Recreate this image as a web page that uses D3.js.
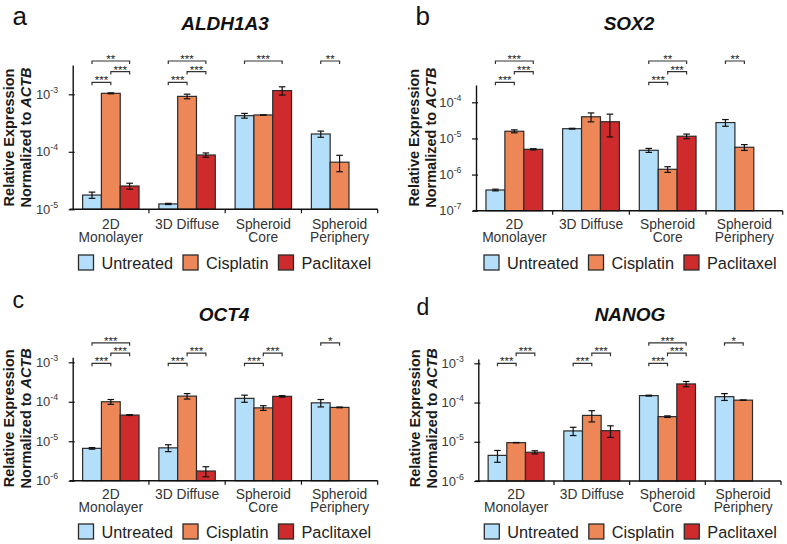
<!DOCTYPE html>
<html>
<head>
<meta charset="utf-8">
<script src="https://cdn.jsdelivr.net/npm/d3@7"></script>
<style>
  html, body { margin: 0; padding: 0; background: #fff; }
  svg { display: block; font-family: "Liberation Sans", Arial, Helvetica, sans-serif; }
</style>
</head>
<body>
<svg id="chart" width="787" height="544"></svg>
<script>
// ---------------- DATA ----------------
const categories = [["2D", "Monolayer"], ["3D Diffuse"], ["Spheroid", "Core"], ["Spheroid", "Periphery"]];
const series = ["Untreated", "Cisplatin", "Paclitaxel"];
const seriesColors = ["#b3dffa", "#ee8757", "#d02b2c"];

// mean values [category][series]
const aldh1a3Mean = [[1.77e-5, 1.04e-3, 2.54e-5], [1.24e-5, 9.2e-4, 8.8e-5], [4.25e-4, 4.37e-4, 1.16e-3], [2.04e-4, 6.6e-5, null]];
const aldh1a3Err  = [[2.2e-6, 2.0e-5, 3.0e-6], [3e-7, 8.5e-5, 7.5e-6], [4.0e-5, 0, 1.9e-4], [2.5e-5, 2.1e-5, null]];
const sox2Mean = [[3.74e-7, 1.58e-5, 5.0e-6], [1.86e-5, 3.98e-5, 2.9e-5], [4.7e-6, 1.4e-6, 1.15e-5], [2.75e-5, 5.7e-6, null]];
const sox2Err  = [[2e-8, 1.5e-6, 2e-7], [5e-7, 1.1e-5, 1.8e-5], [6e-7, 2.5e-7, 1.7e-6], [5.8e-6, 1.05e-6, null]];
const oct4Mean = [[6.6e-6, 1.0e-4, 4.6e-5], [6.8e-6, 1.39e-4, 1.76e-6], [1.22e-4, 7.0e-5, 1.37e-4], [9.4e-5, 7.2e-5, null]];
const oct4Err  = [[3e-7, 1.4e-5, 1e-6], [1.35e-6, 2.2e-5, 5e-7], [2.5e-5, 9.5e-6, 6e-6], [2.0e-5, 1.5e-6, null]];
const nanogMean = [[4.5e-6, 9.5e-6, 5.4e-6], [1.89e-5, 4.7e-5, 1.92e-5], [1.5e-4, 4.37e-5, 2.98e-4], [1.41e-4, 1.15e-4, null]];
const nanogErr  = [[1.5e-6, 1e-7, 5e-7], [4.5e-6, 1.5e-5, 6.3e-6], [4e-6, 2e-6, 4.6e-5], [2.8e-5, 1e-6, null]];

// significance: [category, seriesA, seriesB, label, level]
const aldh1a3Sig = [[0,0,1,"***",1],[0,1,2,"***",2],[0,0,2,"**",3],[1,0,1,"***",1],[1,1,2,"***",2],[1,0,2,"***",3],[2,0,2,"***",3],[3,0,1,"**",3]];
const sox2Sig = [[0,0,1,"***",1],[0,1,2,"***",2],[0,0,2,"***",3],[2,0,1,"***",1],[2,1,2,"***",2],[2,0,2,"**",3],[3,0,1,"**",3]];
const oct4Sig = [[0,0,1,"***",1],[0,1,2,"***",2],[0,0,2,"***",3],[1,0,1,"***",1],[1,1,2,"***",2],[2,0,1,"***",1],[2,1,2,"***",2],[3,0,1,"*",3]];
const nanogSig = [[0,0,1,"***",1],[0,1,2,"***",2],[1,0,1,"***",1],[1,1,2,"***",2],[2,0,1,"***",1],[2,1,2,"***",2],[2,0,2,"***",3],[3,0,1,"*",3]];

// y tick values
const aldh1a3Ticks = [1e-5, 1e-4, 1e-3];
const sox2Ticks = [1e-7, 1e-6, 1e-5, 1e-4];
const oct4Ticks = [1e-6, 1e-5, 1e-4, 1e-3];
const nanogTicks = [1e-6, 1e-5, 1e-4, 1e-3];

// ---------------- LAYOUT ----------------
const panels = [
  { gene: "ALDH1A3", letter: "a", mean: aldh1a3Mean, err: aldh1a3Err, sig: aldh1a3Sig, ticks: aldh1a3Ticks,
    x0: 72.7, x1: 377.7, bottom: 209.3, refPx: 94.3, top: 65,
    letterX: 12.5, letterY: 24.5, letterSize: 26, titleX: 225, titleY: 30,
    yTitleCy: 137.5, yTitleX1: 13.5, yTitleX2: 30.5, levels: {1: 82.3, 2: 71.6, 3: 61},
    catY: 228.5, legendX: 78.5, legendY: 255 },
  { gene: "SOX2", letter: "b", mean: sox2Mean, err: sox2Err, sig: sox2Sig, ticks: sox2Ticks,
    x0: 476, x1: 782.7, bottom: 210.7, refPx: 102.3, top: 85,
    letterX: 415.5, letterY: 24.5, letterSize: 26, titleX: 629, titleY: 29.5,
    yTitleCy: 137.7, yTitleX1: 418.5, yTitleX2: 435.5, levels: {1: 82.3, 2: 71.6, 3: 61},
    catY: 228.5, legendX: 484, legendY: 255 },
  { gene: "OCT4", letter: "c", mean: oct4Mean, err: oct4Err, sig: oct4Sig, ticks: oct4Ticks,
    x0: 72.7, x1: 377.7, bottom: 480.7, refPx: 362.3, top: 357.3,
    letterX: 12.5, letterY: 308, letterSize: 23, titleX: 224, titleY: 320.7,
    yTitleCy: 418.3, yTitleX1: 13.5, yTitleX2: 30.5, levels: {1: 363.3, 2: 353.2, 3: 342.8},
    catY: 498.5, legendX: 78.5, legendY: 524 },
  { gene: "NANOG", letter: "d", mean: nanogMean, err: nanogErr, sig: nanogSig, ticks: nanogTicks,
    x0: 478.3, x1: 781, bottom: 481, refPx: 363.3, top: 359,
    letterX: 416.5, letterY: 315, letterSize: 23, titleX: 630, titleY: 321,
    yTitleCy: 418.3, yTitleX1: 420, yTitleX2: 437, levels: {1: 363.3, 2: 353.2, 3: 342.8},
    catY: 498.5, legendX: 484.3, legendY: 524 }
];

const svg = d3.select("#chart");
const ink = "#2b2b2b";

panels.forEach(p => {
  const g = svg.append("g");

  // scales
  const xBand = d3.scaleBand().domain(d3.range(categories.length)).range([p.x0, p.x1]).padding(0);
  const W = xBand.bandwidth();
  const xInner = d3.scaleBand().domain(d3.range(series.length)).range([W * 0.13, W * 0.87]).padding(0);
  const y = d3.scaleLog().domain([p.ticks[0], p.ticks[p.ticks.length - 1]]).range([p.bottom, p.refPx]);
  y.domain([p.ticks[0], y.invert(p.top)]).range([p.bottom, p.top]);

  // bars
  p.mean.forEach((row, ci) => {
    row.forEach((v, si) => {
      if (v == null) return;
      const bx = xBand(ci) + xInner(si);
      g.append("rect")
        .attr("x", bx).attr("y", y(v))
        .attr("width", xInner.bandwidth()).attr("height", p.bottom - y(v))
        .attr("fill", seriesColors[si]).attr("stroke", ink).attr("stroke-width", 1.2);
    });
  });

  // error bars
  p.mean.forEach((row, ci) => {
    row.forEach((v, si) => {
      if (v == null) return;
      const e = p.err[ci][si];
      if (e == null) return;
      const cx = xBand(ci) + xInner(si) + xInner.bandwidth() / 2;
      const yHi = y(v + e), yLo = y(Math.max(v - e, 1e-12));
      const eg = g.append("g").attr("stroke", "#111").attr("stroke-width", 1.2);
      eg.append("line").attr("x1", cx).attr("x2", cx).attr("y1", yHi).attr("y2", yLo);
      eg.append("line").attr("x1", cx - 3.3).attr("x2", cx + 3.3).attr("y1", yHi).attr("y2", yHi);
      eg.append("line").attr("x1", cx - 3.3).attr("x2", cx + 3.3).attr("y1", yLo).attr("y2", yLo);
    });
  });

  // y axis
  const yAxis = d3.axisLeft(y).tickValues(p.ticks).tickSizeInner(4).tickSizeOuter(0).tickFormat("");
  const ya = g.append("g").attr("transform", `translate(${p.x0},0)`).call(yAxis);
  ya.select(".domain").attr("stroke", "#111").attr("stroke-width", 1.4);
  ya.selectAll(".tick line").attr("stroke", "#111").attr("stroke-width", 1.2).attr("x2", -4).attr("x1", 2);
  p.ticks.forEach(t => {
    const exp = Math.round(Math.log10(t));
    const tx = g.append("text")
      .attr("x", p.x0 - 14.5).attr("y", y(t) + 4.6)
      .attr("text-anchor", "end").attr("fill", "#3a3a3a").attr("font-size", 13);
    tx.append("tspan").text("10");
    tx.append("tspan").attr("dy", -6).attr("font-size", 8.8).text(String(exp));
  });

  // x axis line + separators
  g.append("line").attr("x1", p.x0 - 3).attr("x2", p.x1).attr("y1", p.bottom).attr("y2", p.bottom)
    .attr("stroke", "#111").attr("stroke-width", 1.4);
  const bounds = d3.range(1, categories.length + 1).map(i => i < categories.length ? xBand(i) : p.x1);
  bounds.forEach(bx => {
    g.append("line").attr("x1", bx).attr("x2", bx).attr("y1", p.bottom).attr("y2", p.bottom + 4)
      .attr("stroke", "#111").attr("stroke-width", 1.2);
  });

  // category labels
  categories.forEach((lines, ci) => {
    const t = g.append("text").attr("text-anchor", "middle").attr("fill", "#333").attr("font-size", 13.8);
    lines.forEach((ln, li) => {
      t.append("tspan").attr("x", xBand(ci) + W / 2).attr("y", p.catY + li * 13.6).text(ln);
    });
  });

  // significance brackets
  p.sig.forEach(([ci, a, b, label, lvl]) => {
    const xa = xBand(ci) + xInner(a) + xInner.bandwidth() / 2;
    const xb = xBand(ci) + xInner(b) + xInner.bandwidth() / 2;
    const ly = p.levels[lvl];
    g.append("path")
      .attr("d", `M${xa},${ly + 3}V${ly}H${xb}V${ly + 3}`)
      .attr("fill", "none").attr("stroke", "#333").attr("stroke-width", 1.2);
    g.append("text").attr("x", (xa + xb) / 2).attr("y", ly + 2)
      .attr("text-anchor", "middle").attr("font-size", 11.5).attr("fill", "#222").text(label);
  });

  // y axis title
  const yt = g.append("g").attr("transform", `rotate(-90)`);
  yt.append("text").attr("x", -p.yTitleCy).attr("y", p.yTitleX1)
    .attr("text-anchor", "middle").attr("font-size", 14.5).attr("font-weight", "bold").attr("fill", "#1a1a1a")
    .text("Relative Expression");
  const t2 = yt.append("text").attr("x", -p.yTitleCy).attr("y", p.yTitleX2)
    .attr("text-anchor", "middle").attr("font-size", 14.5).attr("font-weight", "bold").attr("fill", "#1a1a1a");
  t2.append("tspan").text("Normalized to ");
  t2.append("tspan").attr("font-style", "italic").text("ACTB");

  // title
  g.append("text").attr("x", p.titleX).attr("y", p.titleY).attr("text-anchor", "middle")
    .attr("font-size", 19).attr("font-weight", "bold").attr("font-style", "italic").attr("fill", "#111")
    .text(p.gene);

  // panel letter
  g.append("text").attr("x", p.letterX).attr("y", p.letterY).attr("font-size", p.letterSize)
    .attr("fill", "#111").text(p.letter);

  // legend
  let lx = p.legendX;
  series.forEach((s, si) => {
    g.append("rect").attr("x", lx).attr("y", p.legendY).attr("width", 15).attr("height", 15)
      .attr("fill", seriesColors[si]).attr("stroke", ink).attr("stroke-width", 1.3);
    const tt = g.append("text").attr("x", lx + 23).attr("y", p.legendY + 13.5)
      .attr("font-size", 16.3).attr("fill", "#222").text(s);
    lx = lx + 23 + tt.node().getComputedTextLength() + 10;
  });
});
</script>
</body>
</html>
